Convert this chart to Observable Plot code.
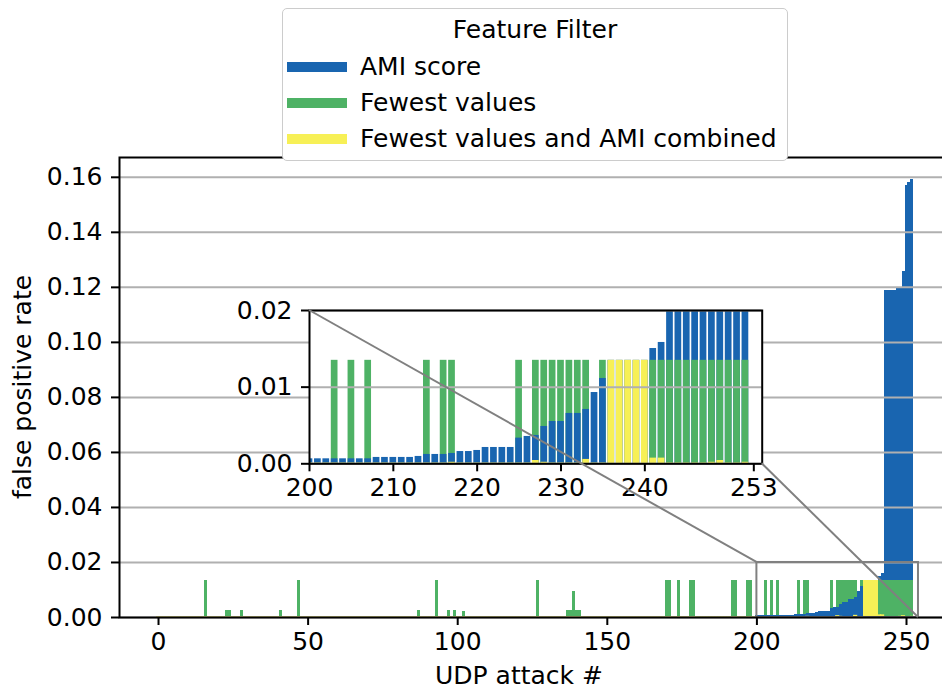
<!DOCTYPE html>
<html>
<head>
<meta charset="utf-8">
<script src="https://cdn.jsdelivr.net/npm/d3@7"></script>
<script src="https://cdn.jsdelivr.net/npm/@observablehq/plot@0.6"></script>
<style>
  html, body { margin: 0; padding: 0; background: #fff; overflow: hidden; }
  #chart { position: relative; width: 942px; height: 690px; font-family: "DejaVu Sans", sans-serif; }
  #legend { position: absolute; left: 282px; top: 8px; width: 506px; height: 153px; box-sizing: border-box;
            border: 1.5px solid #cccccc; border-radius: 5px; background: #fff; font-size: 25px; color: #000; }
  #legend .row { position: absolute; left: 0; height: 30px; line-height: 30px; white-space: nowrap; }
  #legend .sw { position: absolute; left: 3.5px; width: 60px; height: 10px; }
  #legend .lbl { position: absolute; left: 77px; height: 30px; line-height: 30px; white-space: nowrap; }
</style>
</head>
<body>
<div id="chart"></div>
<script>
// ---------------- data ----------------
const seriesNames  = ["AMI score", "Fewest values", "Fewest values and AMI combined"];
const seriesColors = ["#1965B0", "#4EB265", "#F7F056"];
const legendTitle = "Feature Filter";
const xLabel = "UDP attack #";
const yLabel = "false positive rate";

// false positive rate per UDP attack # (0 … 252)
const amiScore = [
  0,0,0,0,0,0,0,0,0,0,  0,0,0,0,0,0,0,0,0,0,  0,0,0,0,0,0,0,0,0,0,
  0,0,0,0,0,0,0,0,0,0,  0,0,0,0,0,0,0,0,0,0,  0,0,0,0,0,0,0,0,0,0,
  0,0,0,0,0,0,0,0,0,0,  0,0,0,0,0,0,0,0,0,0,  0,0,0,0,0,0,0,0,0,0,
  0,0,0,0,0,0,0,0,0,0,  0,0,0,0,0,0,0,0,0,0,  0,0,0,0,0,0,0,0,0,0,
  0,0,0,0,0,0,0,0,0,0,  0,0,0,0,0,0,0,0,0,0,  0,0,0,0,0,0,0,0,0,0,
  0,0,0,0,0,0,0,0,0,0,  0,0,0,0,0,0,0,0,0,0,
  0,0,0,0,0,0,0,0,0.0003,0.0003,
  0.0003,0.0003,0.0003,0.0003,0.0003,0.0003,0.0003,0.0003,0.0003,0.0003,
  0.0003,0.0003,0.0003,0.0003,0,0,0.0004,0.0004,0.0004,0.0004,
  0.00065,0.00065,0.00065,0.00065,0.00065,0.00065,0.00065,0.00065,0.00083,0.00083,
  0.00083,0.00083,0.00083,0.00096,0.00122,0.00122,0.00122,0.00135,0.0016,0.0016,
  0.00174,0.00213,0.00213,0.00213,0.00213,0.00335,0.00357,0.0037,0.00487,0.00552,
  0.00552,0.00657,0.00657,0.00709,0.0093,0.01113,0.0135,0.0135,0.0135,0.0135,
  0.0135,0.01504,0.01583,0.1188,0.1188,0.1188,0.119,0.1199,0.1199,0.1257,
  0.157,0.1581,0.1592
];
const fewestValues = [
  0,0,0,0,0,0,0,0,0,0,
  0,0,0,0,0,0,0.0135,0,0,0,
  0,0,0,0.0025,0.0025,0,0,0,0.0025,0,
  0,0,0,0,0,0,0,0,0,0,
  0,0.0025,0,0,0,0,0,0.0135,0,0,
  0,0,0,0,0,0,0,0,0,0,
  0,0,0,0,0,0,0,0,0,0,
  0,0,0,0,0,0,0,0,0,0,
  0,0,0,0,0,0,0,0.0025,0,0,
  0,0,0,0.0135,0,0,0,0.0025,0,0.0025,
  0,0,0.0022,0,0,0,0,0,0,0,
  0,0,0,0,0,0,0,0,0,0,
  0,0,0,0,0,0,0,0.0135,0,0,
  0,0,0,0,0,0,0,0.0025,0.0025,0.0093,
  0.0025,0.0025,0,0,0,0,0,0,0,0,
  0,0,0,0,0,0,0,0,0,0,
  0,0,0,0,0,0,0,0,0,0,
  0.0135,0.0135,0,0,0.0135,0,0,0,0.0135,0.0135,
  0,0,0,0,0,0,0,0,0,0,
  0,0,0.0135,0.0135,0,0,0,0.0135,0.0135,0,
  0,0,0,0.0135,0,0.0135,0,0.0135,0,0,
  0,0,0,0,0.0135,0,0.0135,0.0135,0,0,
  0,0,0,0,0,0.0135,0,0.0135,0.0135,0.0135,
  0.0135,0.0135,0.0135,0.0135,0,0.0135,0,0,0,0,
  0,0.0135,0.0135,0.0135,0.0135,0.0135,0.0135,0.0135,0.0135,0.0135,
  0.0135,0.0135,0.0135
];
const combined = [
  1e-4,1e-4,1e-4,1e-4,1e-4,1e-4,1e-4,1e-4,1e-4,1e-4,  1e-4,1e-4,1e-4,1e-4,1e-4,1e-4,1e-4,1e-4,1e-4,1e-4,
  1e-4,1e-4,1e-4,1e-4,1e-4,1e-4,1e-4,1e-4,1e-4,1e-4,  1e-4,1e-4,1e-4,1e-4,1e-4,1e-4,1e-4,1e-4,1e-4,1e-4,
  1e-4,1e-4,1e-4,1e-4,1e-4,1e-4,1e-4,1e-4,1e-4,1e-4,  1e-4,1e-4,1e-4,1e-4,1e-4,1e-4,1e-4,1e-4,1e-4,1e-4,
  1e-4,1e-4,1e-4,1e-4,1e-4,1e-4,1e-4,1e-4,1e-4,1e-4,  1e-4,1e-4,1e-4,1e-4,1e-4,1e-4,1e-4,1e-4,1e-4,1e-4,
  1e-4,1e-4,1e-4,1e-4,1e-4,1e-4,1e-4,1e-4,1e-4,1e-4,  1e-4,1e-4,1e-4,1e-4,1e-4,1e-4,1e-4,1e-4,1e-4,1e-4,
  1e-4,1e-4,1e-4,1e-4,1e-4,1e-4,1e-4,1e-4,1e-4,1e-4,  1e-4,1e-4,1e-4,1e-4,1e-4,1e-4,1e-4,1e-4,1e-4,1e-4,
  1e-4,1e-4,1e-4,1e-4,1e-4,1e-4,1e-4,1e-4,1e-4,1e-4,  1e-4,1e-4,1e-4,1e-4,1e-4,1e-4,1e-4,1e-4,1e-4,1e-4,
  1e-4,1e-4,1e-4,1e-4,1e-4,1e-4,1e-4,1e-4,1e-4,1e-4,  1e-4,1e-4,1e-4,1e-4,1e-4,1e-4,1e-4,1e-4,1e-4,1e-4,
  1e-4,1e-4,1e-4,1e-4,1e-4,1e-4,1e-4,1e-4,1e-4,1e-4,  1e-4,1e-4,1e-4,1e-4,1e-4,1e-4,1e-4,1e-4,1e-4,1e-4,
  1e-4,1e-4,1e-4,1e-4,1e-4,1e-4,1e-4,1e-4,1e-4,1e-4,  1e-4,1e-4,1e-4,1e-4,1e-4,1e-4,1e-4,1e-4,1e-4,1e-4,
  1e-4,1e-4,1e-4,1e-4,1e-4,1e-4,1e-4,1e-4,1e-4,1e-4,
  1e-4,1e-4,1e-4,1e-4,1e-4,1e-4,1e-4,2e-4,1e-4,1e-4,
  1e-4,1e-4,1e-4,1e-4,1e-4,1e-4,1e-4,4.3e-4,2e-4,1e-4,
  1e-4,1e-4,1e-4,5.7e-4,1e-4,1e-4,0.0135,0.0135,0.0135,0.0135,
  0.0135,7.4e-4,7.4e-4,1e-4,1e-4,1e-4,1e-4,1e-4,2e-4,4.3e-4,
  1e-4,1e-4,2e-4
];

// axes / zoom settings
const mainXTicks  = [0, 50, 100, 150, 200, 250];
const mainYTicks  = [0, 0.02, 0.04, 0.06, 0.08, 0.10, 0.12, 0.14, 0.16];
const mainXDomain = [-13.04, 265.04];
const mainYDomain = [0, 0.1672];
const zoomX = [200, 254];
const zoomY = [0, 0.02];
const insetXTicks = [200, 210, 220, 230, 240, 253];
const insetYTicks = [0, 0.01, 0.02];

// ---------------- build ----------------
const FONT = "DejaVu Sans";
const FS = 25;
const seriesValues = [amiScore, fewestValues, combined];
const bars = [];
seriesValues.forEach((arr, k) => arr.forEach((v, i) => { if (v > 0) bars.push({x: i, v, s: seriesNames[k], k}); }));
// taller bars first so the shorter one of each attack stays visible in front
bars.sort((a, b) => (b.v - a.v) || (a.k - b.k));

const colorScale = {domain: seriesNames, range: seriesColors};
const grid = "#b0b0b0";
const zoomBox = [{x1: zoomX[0], x2: zoomX[1], y1: zoomY[0], y2: zoomY[1]}];
const fmt2 = d3.format(".2f");

const mainPlot = Plot.plot({
  width: 942, height: 690,
  marginLeft: 119, marginRight: -9, marginTop: 157, marginBottom: 73,
  x: {domain: mainXDomain},
  y: {domain: mainYDomain},
  color: colorScale,
  style: {fontFamily: FONT, fontSize: FS + "px", background: "white", color: "black", overflow: "hidden"},
  marks: [
    Plot.rect(bars, {x1: d => d.x - 0.5, x2: d => d.x + 0.5, y1: 0, y2: "v", fill: "s", shapeRendering: "crispEdges"}),
    Plot.rect(bars.filter(d => d.k === 2 && d.v < 0.001),
      {x1: d => d.x - 0.5, x2: d => d.x + 0.5, y1: 0, y2: "v", fill: "s", stroke: "s", strokeWidth: 1.2}),
    Plot.gridY(mainYTicks, {stroke: grid, strokeOpacity: 1, strokeWidth: 2}),
    Plot.rect(zoomBox, {x1: "x1", x2: "x2", y1: "y1", y2: "y2", fill: "none", stroke: "#808080", strokeWidth: 2}),
    Plot.frame({stroke: "black", strokeWidth: 2}),
    Plot.axisX(mainXTicks, {tickSize: 8, tickPadding: 6.5, strokeWidth: 2, label: null, fontSize: FS, tickFormat: d3.format("d")}),
    Plot.axisY(mainYTicks, {tickSize: 8, tickPadding: 9, strokeWidth: 2, label: null, fontSize: FS, tickFormat: fmt2})
  ]
});

const insetBars = bars.filter(d => d.x >= zoomX[0] - 1);
const insetPlot = Plot.plot({
  width: 942, height: 690,
  marginLeft: 309, marginRight: 180.3, marginTop: 310, marginBottom: 226.7,
  x: {domain: zoomX},
  y: {domain: zoomY},
  color: colorScale,
  style: {fontFamily: FONT, fontSize: FS + "px", background: "transparent", color: "black",
          position: "absolute", left: "0px", top: "0px"},
  marks: [
    Plot.frame({fill: "white", stroke: null}),
    Plot.rect(insetBars, {x1: d => d.x - 0.4, x2: d => d.x + 0.4, y1: 0, y2: "v", fill: "s", clip: true}),
    Plot.gridY(insetYTicks, {stroke: grid, strokeOpacity: 1, strokeWidth: 2}),
    Plot.frame({stroke: "black", strokeWidth: 2}),
    Plot.axisX(insetXTicks, {tickSize: 8, tickPadding: 6.5, strokeWidth: 2, label: null, fontSize: FS, tickFormat: d3.format("d")}),
    Plot.axisY(insetYTicks, {tickSize: 8, tickPadding: 9, strokeWidth: 2, label: null, fontSize: FS, tickFormat: fmt2})
  ]
});

const chart = document.getElementById("chart");
chart.appendChild(mainPlot);
chart.appendChild(insetPlot);

// axis labels
const msvg = d3.select(mainPlot);
msvg.append("text").attr("x", 519).attr("y", 683.5).attr("text-anchor", "middle")
  .attr("font-family", FONT).attr("font-size", FS).attr("fill", "black").text(xLabel);
msvg.append("text").attr("transform", "translate(31,387) rotate(-90)").attr("text-anchor", "middle")
  .attr("font-family", FONT).attr("font-size", FS).attr("fill", "black").text(yLabel);

// inset connector lines, positioned through both plots' scales
const fn = s => (s && s.apply) ? (v => s.apply(v)) : d3.scaleLinear(s.domain, s.range);
const mx = fn(mainPlot.scale("x")), my = fn(mainPlot.scale("y"));
const ix = fn(insetPlot.scale("x")), iy = fn(insetPlot.scale("y"));
const links = [
  [ix(zoomX[0]), iy(zoomY[1]), mx(zoomX[0]), my(zoomY[1])],
  [ix(zoomX[1]), iy(zoomY[0]), mx(zoomX[1]), my(zoomY[0])]
];
d3.select(insetPlot).append("g").selectAll("line").data(links).join("line")
  .attr("x1", d => d[0]).attr("y1", d => d[1]).attr("x2", d => d[2]).attr("y2", d => d[3])
  .attr("stroke", "#808080").attr("stroke-width", 2);

// legend
const legend = document.createElement("div");
legend.id = "legend";
const title = document.createElement("div");
title.className = "row";
title.style.top = "5.5px"; title.style.width = "100%"; title.style.textAlign = "center";
title.textContent = legendTitle;
legend.appendChild(title);
const rowCenters = [57.5, 93.8, 130];
seriesNames.forEach((name, k) => {
  const sw = document.createElement("div");
  sw.className = "sw";
  sw.style.top = (rowCenters[k] - 5) + "px";
  sw.style.background = seriesColors[k];
  legend.appendChild(sw);
  const lb = document.createElement("div");
  lb.className = "lbl";
  lb.style.top = (rowCenters[k] - 15) + "px";
  lb.textContent = name;
  legend.appendChild(lb);
});
chart.appendChild(legend);
</script>
</body>
</html>
